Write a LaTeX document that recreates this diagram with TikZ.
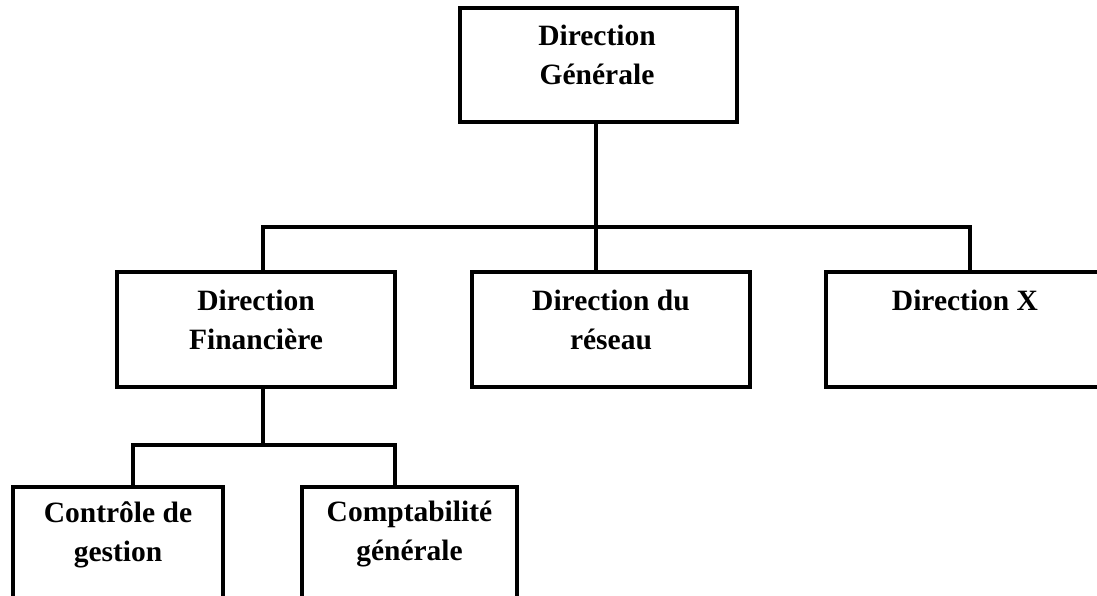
\documentclass[tikz,border=0pt]{standalone}
\usepackage{fontspec}
\setmainfont{Liberation Serif}
\usetikzlibrary{calc}
\begin{document}
\begin{tikzpicture}[x=1pt,y=-1pt,
  box/.style={draw=black,line width=3.5pt,rectangle,inner sep=0pt},
  lbl/.style={font=\bfseries\fontsize{29.5}{39}\selectfont,align=center,inner sep=0pt,anchor=north},
  link/.style={draw=black,line width=3.2pt,line join=miter}]
\useasboundingbox (0,0) rectangle (1097,595);
% boxes
\node[box,minimum width=277pt,minimum height=114pt] (dg) at (598.5,65) {};
\node[box,minimum width=278pt,minimum height=115pt] (df) at (256,329.5) {};
\node[box,minimum width=278pt,minimum height=115pt] (dr) at (611,329.5) {};
\node[box,minimum width=284pt,minimum height=115pt] (dx) at (968,329.5) {};
\node[box,minimum width=210pt,minimum height=140pt] (cg) at (118,557) {};
\node[box,minimum width=215pt,minimum height=140pt] (cp) at (409.5,557) {};
% labels
\node[lbl] (tdg) at ($(dg.north)+(-1.5,19)$) {Direction\\Générale};
\node[lbl] (tdf) at ($(df.north)+(0,20)$) {Direction\\Financière};
\node[lbl] (tdr) at ($(dr.north)+(0,20)$) {Direction du\\réseau};
\node[lbl] (tdx) at ($(dx.north)+(-3,20)$) {Direction X};
\node[lbl] (tcg) at ($(cg.north)+(0,16)$) {Contrôle de\\gestion};
\node[lbl] (tcp) at ($(cp.north)+(0,16)$) {Comptabilité\\générale};
% junctions
\coordinate (j1) at (596,227);
\coordinate (jl) at (263,227);
\coordinate (jr) at (970,227);
\coordinate (j2) at (263,445);
\coordinate (j2l) at (133,445);
\coordinate (j2r) at (395,445);
% connectors
\draw[link] (dg.south -| j1) -- (j1 |- dr.north);
\draw[link] (jl |- df.north) -- (jl) -- (jr) -- (jr |- dx.north);
\draw[link] (df.south -| j2) -- (j2);
\draw[link] (j2l |- cg.north) -- (j2l) -- (j2r) -- (j2r |- cp.north);
\end{tikzpicture}
\end{document}
